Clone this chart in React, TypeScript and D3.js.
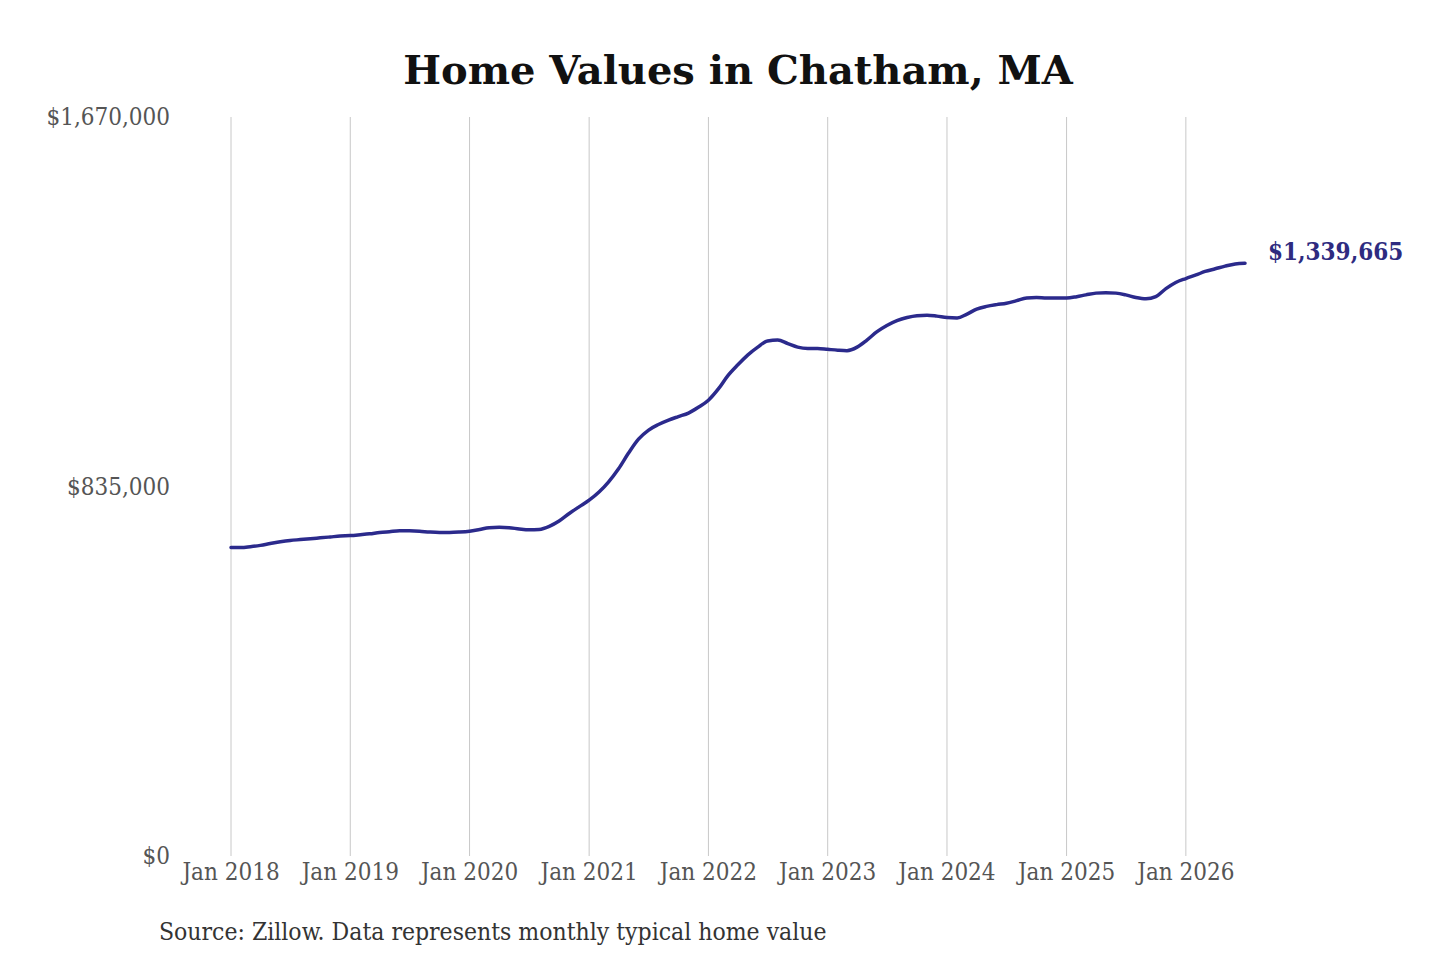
import React, { useEffect, useRef } from "react";
import * as d3 from "d3";

// monthly typical home value, Jan 2018 .. Jul 2026
const startMonth = "2018-01";
const values = [
  697000, 697000, 699000, 702000, 706000, 710000, 713000, 715000, 717000, 719000, 721000, 723000,
  724000, 726000, 728000, 731000, 733000, 735000, 735000, 734000, 732000, 731000, 731000, 732000,
  734000, 738000, 742000, 743000, 742000, 739000, 737000, 738000, 745000, 757000, 774000, 789000,
  804000, 823000, 845000, 875000, 910000, 942000, 962000, 975000, 985000, 993000, 1001000, 1014000,
  1030000, 1056000, 1085000, 1110000, 1132000, 1150000, 1164000, 1166000, 1158000, 1150000, 1147000, 1147000,
  1145000, 1143000, 1142000, 1150000, 1166000, 1185000, 1199000, 1210000, 1217000, 1221000, 1222000, 1220000,
  1217000, 1216000, 1224000, 1236000, 1242000, 1246000, 1249000, 1255000, 1261000, 1262000, 1261000, 1261000,
  1261000, 1264000, 1268000, 1272000, 1273000, 1272000, 1268000, 1262000, 1259000, 1264000, 1282000, 1296000,
  1305000, 1313000, 1321000, 1327000, 1333000, 1338000, 1339665,
];
const yTicks = [0, 835000, 1670000];
const xTickYears = [2018, 2019, 2020, 2021, 2022, 2023, 2024, 2025, 2026];

const title = "Home Values in Chatham, MA";
const source = "Source: Zillow. Data represents monthly typical home value";

const serif = "'DejaVu Serif', serif";

function App() {
  const ref = useRef<HTMLDivElement>(null);

  useEffect(() => {
    const width = 1440;
    const height = 960;

    d3.select(ref.current).select("svg").remove();

    const svg = d3
      .select(ref.current)
      .append("svg")
      .attr("width", width)
      .attr("height", height)
      .style("display", "block")
      .style("background", "#fff");

    const parse = d3.timeParse("%Y-%m");
    const start = parse(startMonth)!;
    const data = values.map((v, i) => ({ date: d3.timeMonth.offset(start, i), value: v }));

    const x = d3
      .scaleTime()
      .domain([start, data[data.length - 1].date])
      .range([231, 1245]);

    const y = d3.scaleLinear().domain([0, 1670000]).range([856, 117]);

    // vertical grid lines at each January
    svg
      .append("g")
      .selectAll("line")
      .data(xTickYears)
      .enter()
      .append("line")
      .attr("x1", (d) => x(new Date(d, 0, 1)))
      .attr("x2", (d) => x(new Date(d, 0, 1)))
      .attr("y1", y(1670000))
      .attr("y2", y(0))
      .attr("stroke", "#c8c8c8")
      .attr("stroke-width", 1);

    // x labels
    svg
      .append("g")
      .selectAll("text")
      .data(xTickYears)
      .enter()
      .append("text")
      .attr("x", (d) => x(new Date(d, 0, 1)))
      .attr("y", 880)
      .attr("text-anchor", "middle")
      .attr("font-family", serif)
      .attr("font-stretch", "condensed")
      .attr("font-size", 24)
      .attr("fill", "#555")
      .text((d) => `Jan ${d}`);

    // y labels
    svg
      .append("g")
      .selectAll("text")
      .data(yTicks)
      .enter()
      .append("text")
      .attr("x", 170)
      .attr("y", (d) => y(d) + 8)
      .attr("text-anchor", "end")
      .attr("font-family", serif)
      .attr("font-stretch", "condensed")
      .attr("font-size", 24)
      .attr("fill", "#555")
      .text((d) => d3.format("$,")(d));

    const line = d3
      .line<{ date: Date; value: number }>()
      .x((d) => x(d.date))
      .y((d) => y(d.value))
      .curve(d3.curveMonotoneX);

    svg
      .append("path")
      .datum(data)
      .attr("d", line)
      .attr("fill", "none")
      .attr("stroke", "#2b2a8c")
      .attr("stroke-width", 3.5)
      .attr("stroke-linecap", "round");

    const last = data[data.length - 1];
    svg
      .append("text")
      .attr("x", x(last.date) + 23)
      .attr("y", y(last.value) - 3)
      .attr("font-family", serif)
      .attr("font-weight", "bold")
      .attr("font-stretch", "condensed")
      .attr("font-size", 24)
      .attr("fill", "#2e2b80")
      .text(d3.format("$,")(last.value));

    svg
      .append("text")
      .attr("x", 738)
      .attr("y", 84)
      .attr("text-anchor", "middle")
      .attr("font-family", serif)
      .attr("font-weight", "bold")
      .attr("font-size", 40)
      .attr("fill", "#111")
      .text(title);

    svg
      .append("text")
      .attr("x", 159)
      .attr("y", 940)
      .attr("font-family", serif)
      .attr("font-stretch", "condensed")
      .attr("font-size", 24.5)
      .attr("fill", "#333")
      .text(source);
  }, []);

  return <div ref={ref} style={{ margin: -8 }}></div>;
}

export default App;
